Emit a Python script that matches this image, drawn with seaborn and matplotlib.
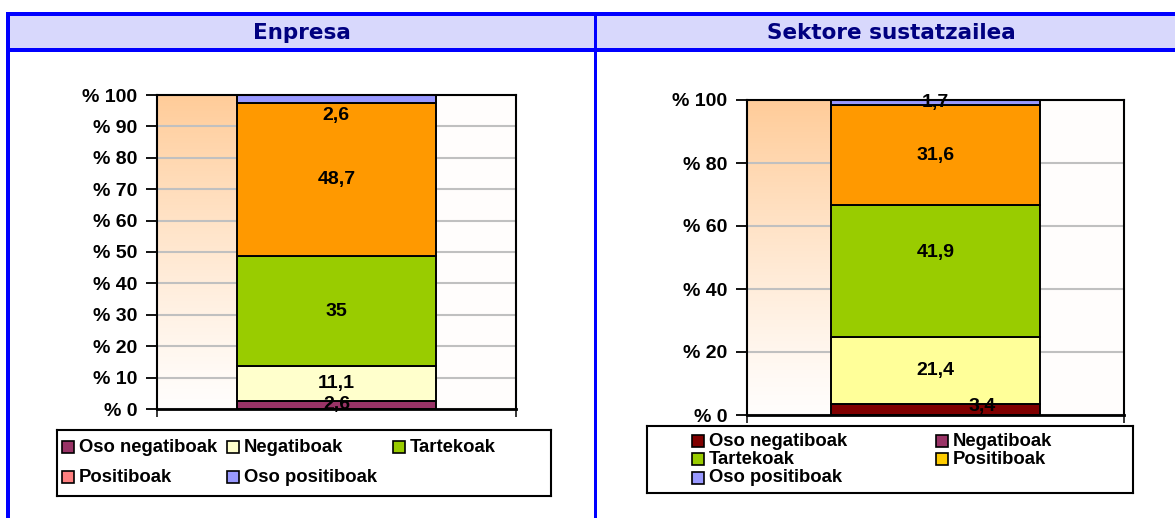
import numpy as np
import pandas as pd
import seaborn as sns
import matplotlib
matplotlib.use("Agg")
import matplotlib.pyplot as plt
from matplotlib.patches import Rectangle

# ---- data -------------------------------------------------------------
panel_titles = ["Enpresa", "Sektore sustatzailea"]
categories = ["Oso negatiboak", "Negatiboak", "Tartekoak", "Positiboak", "Oso positiboak"]

enpresa_values = [2.6, 11.1, 35.0, 48.7, 2.6]
sektore_values = [3.4, 21.4, 41.9, 31.6, 1.7]

enpresa_bar_colors = ["#993366", "#FFFFCC", "#99CC00", "#FF9900", "#9999FF"]
enpresa_key_colors = ["#993366", "#FFFFCC", "#99CC00", "#FF8080", "#9999FF"]
sektore_bar_colors = ["#800000", "#FFFF99", "#99CC00", "#FF9900", "#9999FF"]
sektore_key_colors = ["#800000", "#993366", "#99CC00", "#FFCC00", "#9999FF"]

enpresa_ticks = list(range(0, 101, 10))
sektore_ticks = list(range(0, 101, 20))

# ---- figure -----------------------------------------------------------
W, H = 1175, 518
sns.set_theme(style="white")
plt.rcParams["font.family"] = ["Liberation Sans", "DejaVu Sans"]
plt.rcParams["font.weight"] = "bold"

fig = plt.figure(figsize=(W / 100, H / 100), dpi=100)
fig.patch.set_facecolor("white")


def px_rect(x0, y0, x1, y1):
    """Pixel box (top-left origin) -> figure-fraction rect."""
    return [x0 / W, 1 - y1 / H, (x1 - x0) / W, (y1 - y0) / H]


def fig_box(x0, y0, x1, y1, **kw):
    r = Rectangle((x0 / W, 1 - y1 / H), (x1 - x0) / W, (y1 - y0) / H,
                  transform=fig.transFigure, **kw)
    fig.add_artist(r)


# table frame with the two header cells
BLUE = "#0000FF"
fig_box(8, 14, 1190, 51, facecolor="#D8D8FC", edgecolor="none", zorder=0)
fig_box(6, 12, 1190, 16, facecolor=BLUE, edgecolor="none", zorder=1)
fig_box(6, 48, 1190, 52, facecolor=BLUE, edgecolor="none", zorder=1)
fig_box(6, 12, 10, 530, facecolor=BLUE, edgecolor="none", zorder=1)
fig_box(594, 12, 597, 530, facecolor=BLUE, edgecolor="none", zorder=1)

title_centers = [302, 891]
for title, cx in zip(panel_titles, title_centers):
    fig.text(cx / W, 1 - 33 / H, title, ha="center", va="center",
             fontsize=15.5, fontweight="bold", color="#000080",
             family="DejaVu Sans")


def gradient_background(ax):
    xs = np.linspace(0, 1, 300)
    ys = np.linspace(0, 1, 300)  # 0 = top of plot area
    xx, yy = np.meshgrid(xs, ys)
    s = np.clip((xx - 0.22) / (0.78 - 0.22), 0, 1)
    hx = 1 - s * s * (3 - 2 * s)
    t = (1 - yy) ** 1.2 * hx
    t = 0.025 + 0.975 * t
    peach = np.array([1.0, 0.80, 0.60])
    white = np.array([1.0, 1.0, 1.0])
    img = white[None, None, :] * (1 - t[..., None]) + peach[None, None, :] * t[..., None]
    ax.imshow(img, extent=(-0.5, 0.5, 0, 100), aspect="auto", zorder=0,
              origin="upper", interpolation="bilinear")


def stacked_panel(rect, values, colors, ticks, label_offsets):
    ax = fig.add_axes(rect)
    gradient_background(ax)
    df = pd.DataFrame({"group": ["all"] * len(values), "category": categories,
                       "value": values})
    bottoms = np.concatenate([[0], np.cumsum(values)[:-1]])
    for (_, row), color, base in zip(df.iterrows(), colors, bottoms):
        sns.barplot(data=df[df["category"] == row["category"]], x="group", y="value",
                    bottom=base, color=color, width=0.554, errorbar=None,
                    edgecolor="black", linewidth=1.4, saturation=1, ax=ax, zorder=3)
    ax.set_xlim(-0.5, 0.5)
    ax.set_ylim(0, 100)
    ax.set_yticks(ticks)
    ax.set_yticklabels([f"% {t}" for t in ticks], fontsize=14, fontweight="bold")
    ax.set_xticks([-0.5, 0.5])
    ax.set_xticklabels([])
    ax.set_xlabel("")
    ax.set_ylabel("")
    ax.yaxis.grid(True, color="#C0C0C0", linewidth=1.5, zorder=1)
    ax.set_axisbelow(True)
    ax.tick_params(axis="y", direction="out", length=8, width=1.3, pad=6,
                   colors="black", left=True)
    ax.tick_params(axis="x", direction="out", length=6, width=1.3, bottom=True)
    for side, sp in ax.spines.items():
        sp.set_visible(True)
        sp.set_color("black")
        sp.set_linewidth(1.5)
        sp.set_zorder(5)
    ax.spines["bottom"].set_linewidth(2)
    # segment labels
    for i, (v, base) in enumerate(zip(values, bottoms)):
        dx, dy = label_offsets.get(i, (0, 0))
        txt = f"{v:g}".replace(".", ",")
        ax.annotate(txt, xy=(0, base + v / 2), xytext=(dx, dy),
                    textcoords="offset pixels", ha="center", va="center",
                    fontsize=14, fontweight="bold", color="black", zorder=6)
    return ax


stacked_panel(px_rect(157, 95, 516, 409), enpresa_values, enpresa_bar_colors,
              enpresa_ticks, {4: (-1, -16)})
stacked_panel(px_rect(747, 100, 1124, 415), sektore_values, sektore_bar_colors,
              sektore_ticks, {0: (47, 3), 2: (0, 18)})


def legend_box(box, colors, ncols, col_x, row_y, fontsize):
    x0, y0, x1, y1 = box
    lax = fig.add_axes(px_rect(x0, y0, x1, y1))
    lax.set_xlim(x0, x1)
    lax.set_ylim(y1, y0)
    lax.set_xticks([])
    lax.set_yticks([])
    lax.set_facecolor("white")
    for sp in lax.spines.values():
        sp.set_color("black")
        sp.set_linewidth(1.5)
    sw = 12
    for i, (name, c) in enumerate(zip(categories, colors)):
        r, col = divmod(i, ncols)
        sx, cy = col_x[col], row_y[r]
        lax.add_patch(Rectangle((sx, cy - sw / 2), sw, sw, facecolor=c,
                                edgecolor="black", linewidth=1.2))
        lax.text(sx + sw + 5, cy, name, ha="left", va="center",
                 fontsize=fontsize, fontweight="bold", color="black")


legend_box((57, 430, 551, 496), enpresa_key_colors, 3, [62, 227, 393], [447, 477], 13.3)
legend_box((647, 426, 1133, 493), sektore_key_colors, 2, [692, 936], [441, 459, 478], 13.3)

fig.savefig("out.png", dpi=100)
